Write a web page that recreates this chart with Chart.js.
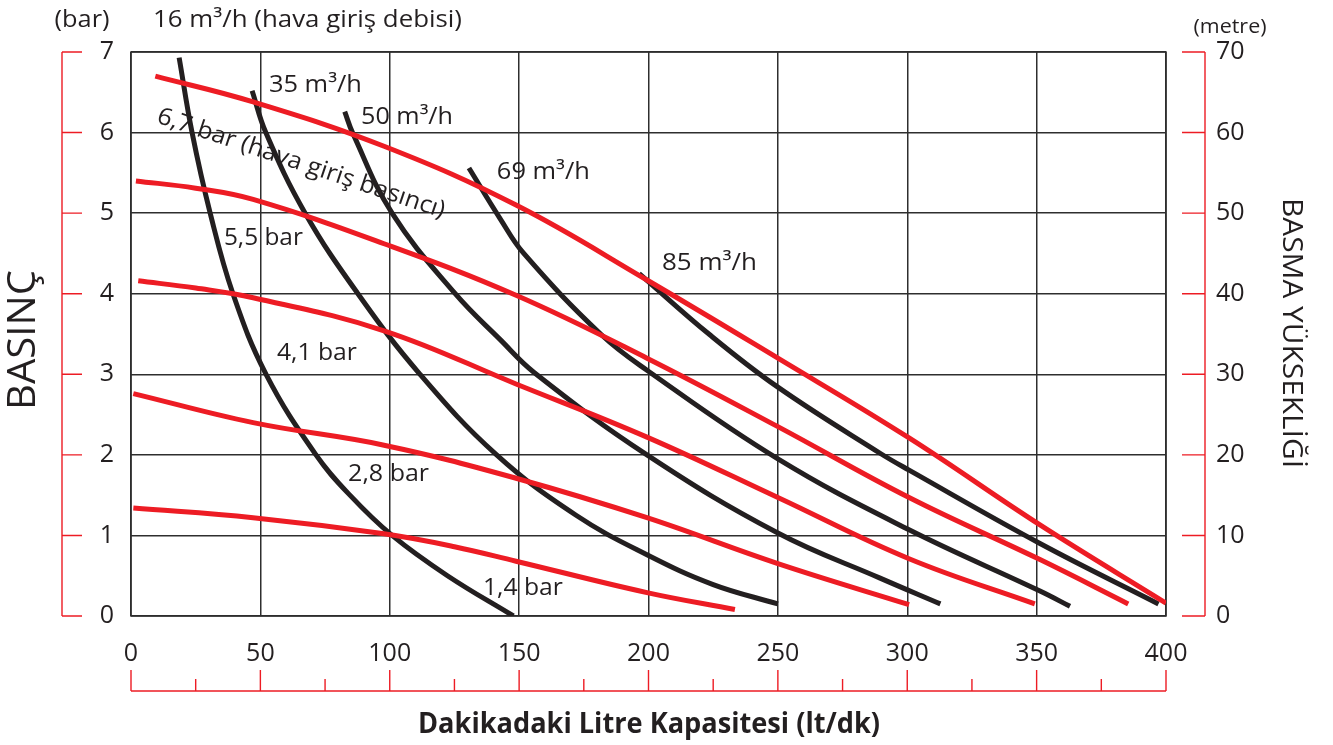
<!DOCTYPE html>
<html><head><meta charset="utf-8">
<script src="https://cdn.jsdelivr.net/npm/chart.js@4.4.1/dist/chart.umd.min.js"></script>
<style>html,body{margin:0;padding:0;background:#fff;}#wrap{width:1333px;height:745px;}</style>
</head><body><div id="wrap"><canvas id="c" width="1333" height="745"></canvas></div>
<script>
// ---- tick labels ----
const xTicks = [0, 50, 100, 150, 200, 250, 300, 350, 400];
const yTicks = [0, 1, 2, 3, 4, 5, 6, 7];
const y2Ticks = [0, 10, 20, 30, 40, 50, 60, 70];

// ---- air consumption curves (black), [lt/dk, bar] ----
const air16 = [[18.6,6.93],[23.6,6.0],[30.6,5.0],[39.4,4.0],[52.2,3.0],[71.5,2.0],[84.6,1.5],[100.9,1.0],[122.3,0.5],[147.8,0.0]];
const air35 = [[46.8,6.52],[52.1,6.0],[67.3,5.0],[87.7,4.0],[111.7,3.0],[141.3,2.0],[172.0,1.25],[199.4,0.76],[225,0.39],[250,0.15]];
const air50 = [[82.6,6.26],[85.6,6.0],[100.9,5.0],[125.3,4.0],[142.7,3.43],[155.9,3.02],[199.4,2.0],[250,1.03],[289.5,0.47],[312.8,0.15]];
const air69 = [[130.6,5.56],[142.7,4.93],[151.8,4.50],[181.8,3.49],[199.4,3.05],[250,1.95],[300.7,1.07],[351.3,0.31],[362.9,0.12]];
const air85 = [[196.4,4.25],[223.7,3.49],[250,2.84],[289.5,2.02],[300.7,1.81],[351.3,0.90],[397.1,0.15]];

// ---- air inlet pressure curves (red), [lt/dk, bar] ----
const p67 = [[9.4,6.70],[47.2,6.38],[97.8,5.83],[148.8,5.10],[199.4,4.17],[250,3.20],[300.7,2.21],[351.3,1.13],[400,0.16]];
const p55 = [[1.9,5.40],[25,5.31],[47.2,5.17],[97.8,4.62],[148.8,3.98],[199.4,3.20],[250,2.35],[300.7,1.47],[351.3,0.70],[385.4,0.15]];
const p41 = [[2.8,4.16],[25,4.07],[47.2,3.95],[97.8,3.54],[148.8,2.88],[199.4,2.22],[250,1.47],[300.7,0.71],[349.3,0.15]];
const p28 = [[0.9,2.76],[47.2,2.40],[97.8,2.12],[148.8,1.71],[199.4,1.22],[250,0.65],[300.7,0.14]];
const p14 = [[0.9,1.34],[47.2,1.22],[97.8,1.02],[125,0.86],[148.8,0.68],[199.4,0.29],[233.4,0.08]];

const RED = '#ed1c24', BLACK = '#231f20', GRID = '#2e2e2e', TXT = '#231f20';
const FONT = '"Open Sans", "Noto Sans", sans-serif';

const curveLabels = [
  {t:'35 m³/h', x:53.3, y:6.59, w:93},
  {t:'50 m³/h', x:88.9, y:6.19, w:92},
  {t:'69 m³/h', x:141.4, y:5.51, w:93},
  {t:'85 m³/h', x:205.2, y:4.38, w:95},
  {t:'5,5 bar', x:35.9, y:4.69, w:79},
  {t:'4,1 bar', x:56.4, y:3.26, w:80},
  {t:'2,8 bar', x:83.9, y:1.76, w:81},
  {t:'1,4 bar', x:136.0, y:0.35, w:80},
  {t:'6,7 bar (hava giriş basıncı)', x:10.4, y:6.21, w:302, rot:18.5}
];

function pts(a){ return a.map(p => ({x:p[0], y:p[1]})); }
function ds(a, color, order){
  return {data:pts(a), borderColor:color, borderWidth:5, showLine:true, fill:false,
          pointRadius:0, tension:0.4, borderCapStyle:'butt', order:order};
}

function fitText(ctx, s, x, y, font, w, align){
  ctx.save();
  ctx.font = font;
  const m = ctx.measureText(s).width;
  const k = w ? w / m : 1;
  ctx.translate(x, y);
  ctx.scale(k, 1);
  ctx.textAlign = align || 'left';
  ctx.textBaseline = 'middle';
  ctx.fillStyle = TXT;
  ctx.fillText(s, 0, 0);
  ctx.restore();
}

const deco = {
  id:'deco',
  beforeDatasetsDraw(chart){
    const {ctx, chartArea:a, scales} = chart;
    const x = scales.x, y = scales.y;
    ctx.save();
    ctx.strokeStyle = GRID; ctx.lineWidth = 1.5;
    ctx.strokeRect(a.left, a.top, a.right - a.left, a.bottom - a.top);
    ctx.restore();
    curveLabels.forEach(l => {
      const px = x.getPixelForValue(l.x), py = y.getPixelForValue(l.y);
      if (l.rot){
        ctx.save(); ctx.translate(px, py); ctx.rotate(l.rot * Math.PI / 180);
        fitText(ctx, l.t, 0, 0, '24px ' + FONT, l.w, 'left');
        ctx.restore();
      } else {
        fitText(ctx, l.t, px, py, '24px ' + FONT, l.w, 'left');
      }
    });
  },
  afterDraw(chart){
    const {ctx, scales} = chart;
    const x = scales.x, y = scales.y, y2 = scales.y2;
    ctx.save();
    ctx.strokeStyle = RED; ctx.lineWidth = 1.4;
    // left bracket
    ctx.beginPath();
    ctx.moveTo(62, y.getPixelForValue(7)); ctx.lineTo(62, y.getPixelForValue(0));
    yTicks.forEach(v => { const p = y.getPixelForValue(v); ctx.moveTo(62, p); ctx.lineTo(82, p); });
    // right bracket
    ctx.moveTo(1205, y2.getPixelForValue(70)); ctx.lineTo(1205, y2.getPixelForValue(0));
    y2Ticks.forEach(v => { const p = y2.getPixelForValue(v); ctx.moveTo(1182, p); ctx.lineTo(1205, p); });
    // bottom bracket
    ctx.moveTo(x.getPixelForValue(0), 691); ctx.lineTo(x.getPixelForValue(400), 691);
    xTicks.forEach(v => { const p = x.getPixelForValue(v); ctx.moveTo(p, 670); ctx.lineTo(p, 691); });
    for (let i = 0; i < xTicks.length - 1; i++){
      const p = x.getPixelForValue((xTicks[i] + xTicks[i+1]) / 2); ctx.moveTo(p, 679); ctx.lineTo(p, 691);
    }
    ctx.stroke();
    ctx.restore();

    // tick labels
    yTicks.forEach(v => fitText(ctx, String(v), 107, y.getPixelForValue(v), '25px ' + FONT, 0, 'center'));
    y2Ticks.forEach(v => fitText(ctx, String(v), 1216, y2.getPixelForValue(v), '25px ' + FONT, 0, 'left'));
    xTicks.forEach(v => fitText(ctx, String(v), x.getPixelForValue(v), 654, '25px ' + FONT, 0, 'center'));

    // titles and units
    fitText(ctx, '(bar)', 82, 20, '24px ' + FONT, 55, 'center');
    fitText(ctx, '16 m³/h (hava giriş debisi)', 153, 20, '24px ' + FONT, 309, 'left');
    fitText(ctx, '(metre)', 1230, 27, '20px ' + FONT, 73, 'center');
    fitText(ctx, 'Dakikadaki Litre Kapasitesi (lt/dk)', 649, 725, 'bold 28px ' + FONT, 462, 'center');

    ctx.save(); ctx.translate(24, 340); ctx.rotate(-Math.PI / 2);
    fitText(ctx, 'BASINÇ', 0, 0, '39px ' + FONT, 140, 'center');
    ctx.restore();
    ctx.save(); ctx.translate(1291, 333); ctx.rotate(Math.PI / 2);
    fitText(ctx, 'BASMA YÜKSEKLİĞİ', 0, 0, '27px ' + FONT, 270, 'center');
    ctx.restore();
  }
};

new Chart(document.getElementById('c'), {
  type:'scatter',
  data:{datasets:[
    ds(p67, RED, 0), ds(p55, RED, 0), ds(p41, RED, 0), ds(p28, RED, 0), ds(p14, RED, 0),
    ds(air16, BLACK, 1), ds(air35, BLACK, 1), ds(air50, BLACK, 1), ds(air69, BLACK, 1), ds(air85, BLACK, 1)
  ]},
  options:{
    responsive:false, animation:false, devicePixelRatio:1,
    layout:{padding:{left:131, right:167, top:52, bottom:129}},
    plugins:{legend:{display:false}, tooltip:{enabled:false}},
    scales:{
      x:{type:'linear', min:0, max:400, ticks:{display:false, stepSize:50},
         grid:{color:GRID, lineWidth:1.5, drawTicks:false}, border:{display:false}},
      y:{type:'linear', min:0, max:7, ticks:{display:false, stepSize:1},
         grid:{color:GRID, lineWidth:1.5, drawTicks:false}, border:{display:false}},
      y2:{type:'linear', position:'right', min:0, max:70, ticks:{display:false, stepSize:10},
         grid:{display:false, drawTicks:false}, border:{display:false}}
    }
  },
  plugins:[deco]
});
</script>
</body></html>
